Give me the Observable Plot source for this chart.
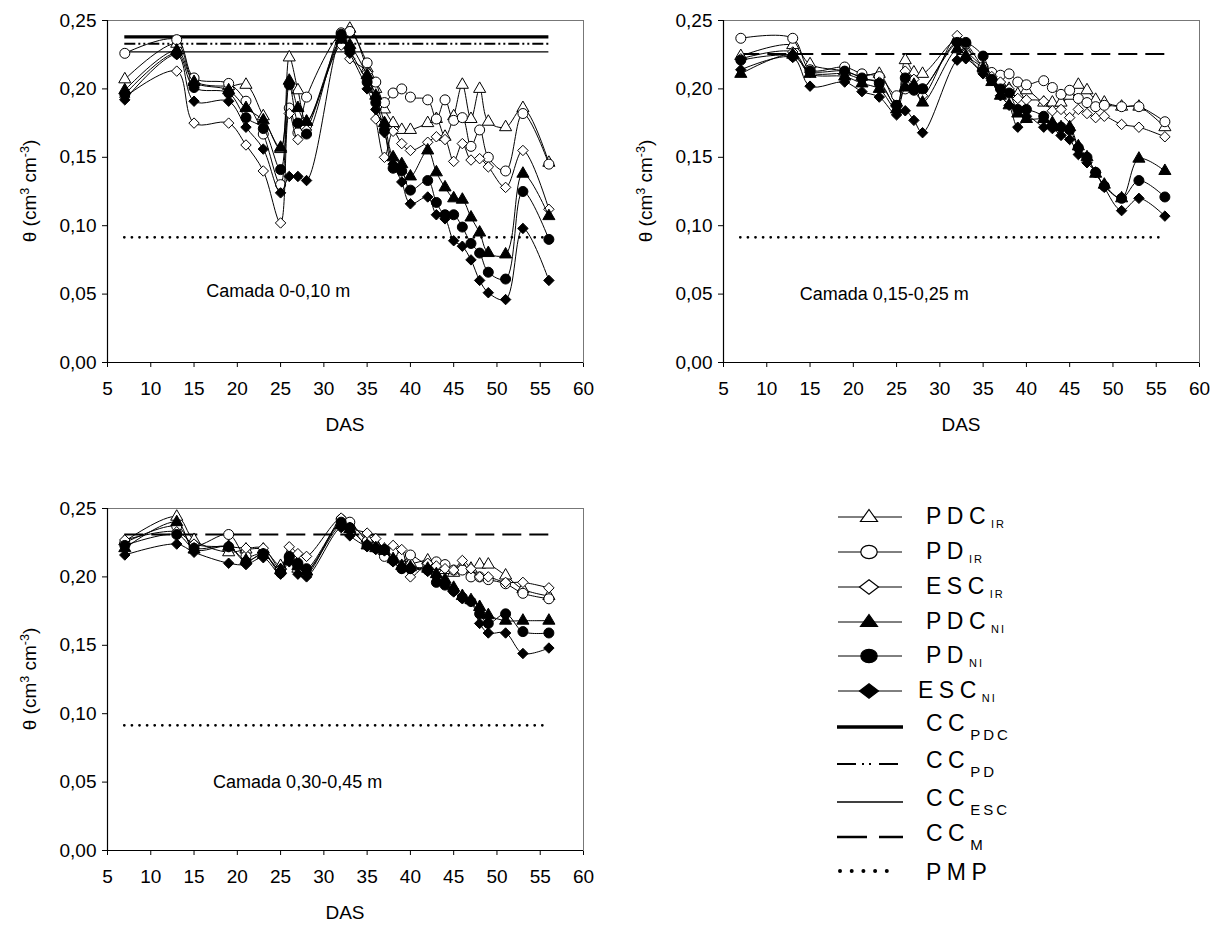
<!DOCTYPE html>
<html>
<head>
<meta charset="utf-8">
<script src="https://cdn.jsdelivr.net/npm/d3@7"></script>
<script src="https://cdn.jsdelivr.net/npm/@observablehq/plot@0.6"></script>
<style>
  body { margin: 0; background: #fff; }
  #root { position: relative; width: 1222px; height: 925px; overflow: hidden; background: #fff;
          font-family: "Liberation Sans", Arial, sans-serif; color: #000; }
  .lab { position: absolute; font-size: 19px; white-space: nowrap; transform: translate(-50%, -50%); }
  .ylab { position: absolute; font-size: 19px; white-space: nowrap; transform: translate(-50%, -50%) rotate(-90deg); }
  .ylab span { font-size: 12.5px; position: relative; top: -7px; }
</style>
</head>
<body>
<div id="root"></div>
<script>
// ---------------- DATA ----------------
const days = [7,13,15,19,21,23,25,26,27,28,32,33,35,36,37,38,39,40,42,43,44,45,46,47,48,49,51,53,56];
const xTicks = [5,10,15,20,25,30,35,40,45,50,55,60];
const yTicks = [0,0.05,0.10,0.15,0.20,0.25];
const yTickLabels = ["0,00","0,05","0,10","0,15","0,20","0,25"];
const seriesNames = ["PDC_IR","PD_IR","ESC_IR","PDC_NI","PD_NI","ESC_NI"];

// Camada 0-0,10 m
const p1_PDC_IR = [0.207,0.233,0.206,0.202,0.203,0.180,0.156,0.223,0.199,0.176,0.238,0.244,0.215,0.200,0.185,0.175,0.170,0.170,0.175,0.178,0.165,0.180,0.203,0.178,0.200,0.176,0.172,0.186,0.146];
const p1_PD_IR  = [0.226,0.236,0.208,0.204,0.191,0.167,0.130,0.186,0.168,0.194,0.241,0.242,0.219,0.205,0.190,0.197,0.200,0.194,0.192,0.178,0.192,0.177,0.179,0.158,0.170,0.150,0.140,0.182,0.145];
const p1_ESC_IR = [0.194,0.213,0.175,0.175,0.159,0.140,0.102,0.182,0.163,0.170,0.232,0.222,0.212,0.178,0.150,0.169,0.160,0.155,0.161,0.165,0.163,0.147,0.160,0.148,0.149,0.143,0.128,0.155,0.112];
const p1_PDC_NI = [0.199,0.228,0.205,0.199,0.186,0.177,0.157,0.206,0.186,0.176,0.236,0.232,0.210,0.195,0.175,0.150,0.145,0.136,0.155,0.139,0.128,0.120,0.119,0.106,0.095,0.080,0.079,0.138,0.107];
const p1_PD_NI  = [0.196,0.226,0.201,0.197,0.179,0.171,0.141,0.203,0.175,0.167,0.240,0.228,0.205,0.190,0.170,0.142,0.140,0.126,0.133,0.117,0.108,0.108,0.099,0.087,0.080,0.066,0.061,0.125,0.090];
const p1_ESC_NI = [0.192,0.225,0.191,0.191,0.172,0.156,0.124,0.136,0.136,0.133,0.237,0.226,0.200,0.185,0.168,0.145,0.132,0.116,0.121,0.108,0.105,0.089,0.085,0.075,0.060,0.051,0.046,0.098,0.060];
const p1_refNames  = ["CC_PDC","CC_PD","CC_ESC","PMP"];
const p1_refValues = [0.238,0.233,0.227,0.0915];

// Camada 0,15-0,25 m
const p2_PDC_IR = [0.224,0.232,0.218,0.213,0.209,0.211,0.190,0.221,0.212,0.211,0.236,0.228,0.216,0.210,0.204,0.200,0.196,0.199,0.190,0.190,0.190,0.195,0.203,0.199,0.192,0.190,0.187,0.187,0.172];
const p2_PD_IR  = [0.237,0.237,0.214,0.216,0.211,0.209,0.195,0.200,0.200,0.200,0.235,0.233,0.216,0.212,0.210,0.211,0.205,0.203,0.206,0.201,0.196,0.199,0.193,0.190,0.187,0.188,0.187,0.187,0.176];
const p2_ESC_IR = [0.222,0.227,0.212,0.211,0.207,0.205,0.187,0.213,0.207,0.195,0.239,0.226,0.212,0.209,0.205,0.200,0.193,0.192,0.191,0.184,0.185,0.179,0.185,0.182,0.179,0.180,0.174,0.172,0.165];
const p2_PDC_NI = [0.211,0.225,0.211,0.209,0.204,0.200,0.185,0.201,0.203,0.190,0.229,0.224,0.215,0.205,0.195,0.188,0.182,0.178,0.178,0.175,0.172,0.172,0.158,0.150,0.138,0.130,0.120,0.149,0.140];
const p2_PD_NI  = [0.221,0.224,0.213,0.213,0.208,0.204,0.188,0.208,0.199,0.200,0.234,0.234,0.224,0.207,0.200,0.197,0.185,0.185,0.180,0.173,0.172,0.170,0.157,0.150,0.139,0.129,0.120,0.133,0.121];
const p2_ESC_NI = [0.214,0.223,0.202,0.205,0.198,0.194,0.181,0.184,0.177,0.168,0.221,0.222,0.211,0.206,0.195,0.188,0.172,0.180,0.172,0.171,0.166,0.163,0.152,0.146,0.139,0.128,0.111,0.120,0.107];
const p2_refNames  = ["CC_M","PMP"];
const p2_refValues = [0.2255,0.0915];

// Camada 0,30-0,45 m
const p3_PDC_IR = [0.226,0.244,0.227,0.218,0.220,0.220,0.208,0.212,0.206,0.204,0.240,0.238,0.228,0.224,0.220,0.218,0.214,0.210,0.212,0.208,0.205,0.203,0.207,0.206,0.209,0.209,0.201,0.191,0.186];
const p3_PD_IR  = [0.225,0.237,0.223,0.231,0.215,0.217,0.205,0.214,0.208,0.202,0.242,0.240,0.226,0.222,0.215,0.218,0.215,0.216,0.209,0.211,0.209,0.205,0.205,0.200,0.200,0.198,0.195,0.188,0.184];
const p3_ESC_IR = [0.227,0.233,0.224,0.222,0.221,0.221,0.206,0.222,0.217,0.215,0.243,0.236,0.232,0.228,0.220,0.223,0.220,0.200,0.210,0.208,0.206,0.205,0.212,0.206,0.200,0.200,0.196,0.196,0.192];
const p3_PDC_NI = [0.221,0.240,0.220,0.222,0.212,0.216,0.205,0.212,0.208,0.204,0.238,0.235,0.223,0.221,0.219,0.213,0.208,0.207,0.206,0.202,0.198,0.192,0.186,0.183,0.178,0.172,0.168,0.168,0.168];
const p3_PD_NI  = [0.223,0.231,0.221,0.222,0.211,0.217,0.203,0.215,0.210,0.206,0.240,0.236,0.223,0.221,0.220,0.212,0.206,0.206,0.205,0.196,0.194,0.190,0.185,0.182,0.173,0.166,0.173,0.160,0.159];
const p3_ESC_NI = [0.216,0.224,0.218,0.210,0.209,0.214,0.202,0.211,0.202,0.200,0.236,0.230,0.222,0.220,0.219,0.211,0.206,0.206,0.204,0.200,0.196,0.189,0.184,0.182,0.166,0.159,0.159,0.144,0.148];
const p3_refNames  = ["CC_M","PMP"];
const p3_refValues = [0.231,0.0915];

const layerTitles = ["Camada 0-0,10 m","Camada 0,15-0,25 m","Camada 0,30-0,45 m"];

// ---------------- STYLES / LAYOUT ----------------
const FONT = "'Liberation Sans', Arial, sans-serif";
const symStyle = {
  PDC_IR: {symbol: "triangle", fill: "white", r: 4.5},
  PD_IR:  {symbol: "circle",   fill: "white", r: 5},
  ESC_IR: {symbol: "diamond2", fill: "white", r: 4.7},
  PDC_NI: {symbol: "triangle", fill: "black", r: 4.5},
  PD_NI:  {symbol: "circle",   fill: "black", r: 5},
  ESC_NI: {symbol: "diamond2", fill: "black", r: 4.7}
};
const refStyle = {
  CC_PDC: {strokeWidth: 3.3},
  CC_PD:  {strokeWidth: 1.8, strokeDasharray: "11,3,2,3,2,3"},
  CC_ESC: {strokeWidth: 1.3},
  CC_M:   {strokeWidth: 2,   strokeDasharray: "19,8"},
  PMP:    {strokeWidth: 2.8, strokeDasharray: "0,7.6", strokeLinecap: "round"}
};
const PW = 620, PH = 420, ML = 107, MT = 20, FW = 476, FH = 342;

function makePanel(values, refNames, refValues, title, titlePos) {
  const dMin = d3.min(days), dMax = d3.max(days);
  const marks = [];
  refNames.forEach((n, i) => {
    marks.push(Plot.ruleY([{v: refValues[i], a: dMin, b: dMax}],
      {y: "v", x1: "a", x2: "b", stroke: "black", ...refStyle[n]}));
  });
  seriesNames.forEach((s, k) => {
    const rows = days.map((d, i) => ({day: d, v: values[k][i]}));
    marks.push(Plot.line(rows, {x: "day", y: "v", curve: "catmull-rom", stroke: "black", strokeWidth: 1}));
    const st = symStyle[s];
    marks.push(Plot.dot(rows, {x: "day", y: "v", symbol: st.symbol, r: st.r, fill: st.fill, stroke: "black", strokeWidth: 1}));
  });
  marks.push(Plot.text([{t: title, x: titlePos[0], y: titlePos[1]}],
    {x: "x", y: "y", text: "t", textAnchor: "start", fontSize: 18, fill: "black"}));
  marks.push(Plot.frame({stroke: "#777", strokeWidth: 1}));
  marks.push(Plot.ruleX([xTicks[0]], {stroke: "black", strokeWidth: 1.2}));
  marks.push(Plot.ruleY([yTicks[0]], {stroke: "black", strokeWidth: 1.2}));
  return Plot.plot({
    width: PW, height: PH,
    marginLeft: ML, marginRight: PW - ML - FW, marginTop: MT, marginBottom: PH - MT - FH,
    x: {domain: [xTicks[0], xTicks[xTicks.length - 1]], ticks: xTicks, tickSize: 5, tickPadding: 14, label: null},
    y: {domain: [yTicks[0], yTicks[yTicks.length - 1]], ticks: yTicks, tickSize: 5, tickPadding: 6,
        tickFormat: d => yTickLabels[yTicks.indexOf(d)], label: null},
    style: {fontFamily: FONT, fontSize: "19px", color: "black", background: "transparent", overflow: "visible"},
    marks
  });
}

const root = document.getElementById("root");
const panels = [
  {vals: [p1_PDC_IR,p1_PD_IR,p1_ESC_IR,p1_PDC_NI,p1_PD_NI,p1_ESC_NI], rn: p1_refNames, rv: p1_refValues, title: layerTitles[0], tp: [16.4, 0.052], left: 0,   top: 0},
  {vals: [p2_PDC_IR,p2_PD_IR,p2_ESC_IR,p2_PDC_NI,p2_PD_NI,p2_ESC_NI], rn: p2_refNames, rv: p2_refValues, title: layerTitles[1], tp: [13.8, 0.050], left: 616, top: 0},
  {vals: [p3_PDC_IR,p3_PD_IR,p3_ESC_IR,p3_PDC_NI,p3_PD_NI,p3_ESC_NI], rn: p3_refNames, rv: p3_refValues, title: layerTitles[2], tp: [17.2, 0.050], left: 0,   top: 488}
];
panels.forEach(p => {
  const svg = makePanel(p.vals, p.rn, p.rv, p.title, p.tp);
  svg.style.position = "absolute";
  svg.style.left = p.left + "px";
  svg.style.top = p.top + "px";
  root.appendChild(svg);
  const das = document.createElement("div");
  das.className = "lab";
  das.textContent = "DAS";
  das.style.left = (p.left + ML + FW / 2) + "px";
  das.style.top = (p.top + 425) + "px";
  root.appendChild(das);
  const yl = document.createElement("div");
  yl.className = "ylab";
  yl.innerHTML = "θ (cm<span>3</span> cm<span>-3</span>)";
  yl.style.left = (p.left + 30) + "px";
  yl.style.top = (p.top + MT + FH / 2) + "px";
  root.appendChild(yl);
});

// ---------------- LEGEND ----------------
const legendRows = [
  {main: "PDC", sub: "IR",  kind: "sym", s: "PDC_IR"},
  {main: "PD",  sub: "IR",  kind: "sym", s: "PD_IR"},
  {main: "ESC", sub: "IR",  kind: "sym", s: "ESC_IR"},
  {main: "PDC", sub: "NI",  kind: "sym", s: "PDC_NI"},
  {main: "PD",  sub: "NI",  kind: "sym", s: "PD_NI"},
  {main: "ESC", sub: "NI",  kind: "sym", s: "ESC_NI", dx: -8},
  {main: "CC",  sub: "PDC", kind: "ref", s: "CC_PDC"},
  {main: "CC",  sub: "PD",  kind: "ref", s: "CC_PD"},
  {main: "CC",  sub: "ESC", kind: "ref", s: "CC_ESC"},
  {main: "CC",  sub: "M",   kind: "ref", s: "CC_M"},
  {main: "PMP", sub: "",    kind: "ref", s: "PMP"}
];
const legY = [517,552,587,622,656,691,727,764,802,837,871];
const legRefStyle = {
  CC_PDC: {w: 3.5, dash: null},
  CC_PD:  {w: 2.2, dash: "19,6,2,5,2,8"},
  CC_ESC: {w: 1.5, dash: null},
  CC_M:   {w: 2.6, dash: "30,12"},
  PMP:    {w: 4,   dash: "0,11.7", cap: "round"}
};
const L0 = 820, T0 = 490;
const leg = d3.select(root).append("svg")
  .attr("width", 400).attr("height", 420)
  .style("position", "absolute").style("left", L0 + "px").style("top", T0 + "px")
  .style("font-family", FONT);
const x1 = 838 - L0, x2 = 902 - L0, xm = 869 - L0, xt = 926 - L0;
legendRows.forEach((r, i) => {
  const y = legY[i] - T0;
  if (r.kind === "sym") {
    leg.append("line").attr("x1", x1).attr("x2", x2).attr("y1", y).attr("y2", y).attr("stroke", "black").attr("stroke-width", 1);
    const st = symStyle[r.s];
    let sh;
    if (st.symbol === "triangle") {
      sh = leg.append("path").attr("d", `M${xm},${y-7.5}L${xm+8.5},${y+4.5}L${xm-8.5},${y+4.5}Z`);
    } else if (st.symbol === "circle") {
      sh = leg.append("ellipse").attr("cx", xm).attr("cy", y).attr("rx", 8.2).attr("ry", 6.6);
    } else {
      sh = leg.append("path").attr("d", `M${xm},${y-7.3}L${xm+9.5},${y}L${xm},${y+7.3}L${xm-9.5},${y}Z`);
    }
    sh.attr("fill", st.fill).attr("stroke", "black").attr("stroke-width", 1.2);
  } else {
    const ls = legRefStyle[r.s];
    const ln = leg.append("line").attr("x1", x1 - 1).attr("x2", x2 + 1).attr("y1", y).attr("y2", y)
      .attr("stroke", "black").attr("stroke-width", ls.w);
    if (ls.dash) ln.attr("stroke-dasharray", ls.dash);
    if (ls.cap) { ln.attr("stroke-linecap", ls.cap).attr("x1", x1 + 2).attr("x2", x2 - 4); }
  }
  const isRef = r.kind === "ref";
  const base = y + (r.s === "PMP" ? 9 : isRef ? 4 : 6.5);
  const t = leg.append("text").attr("x", xt + (r.dx || 0)).attr("y", base)
    .attr("font-size", 23).style("letter-spacing", "5.5px").attr("fill", "black");
  t.append("tspan").text(r.main);
  if (r.sub) {
    t.append("tspan").text(r.sub)
      .attr("font-size", isRef ? 15 : 11)
      .attr("dy", isRef ? 9 : 4)
      .style("letter-spacing", isRef ? "3px" : "2px");
  }
});
</script>
</body>
</html>
